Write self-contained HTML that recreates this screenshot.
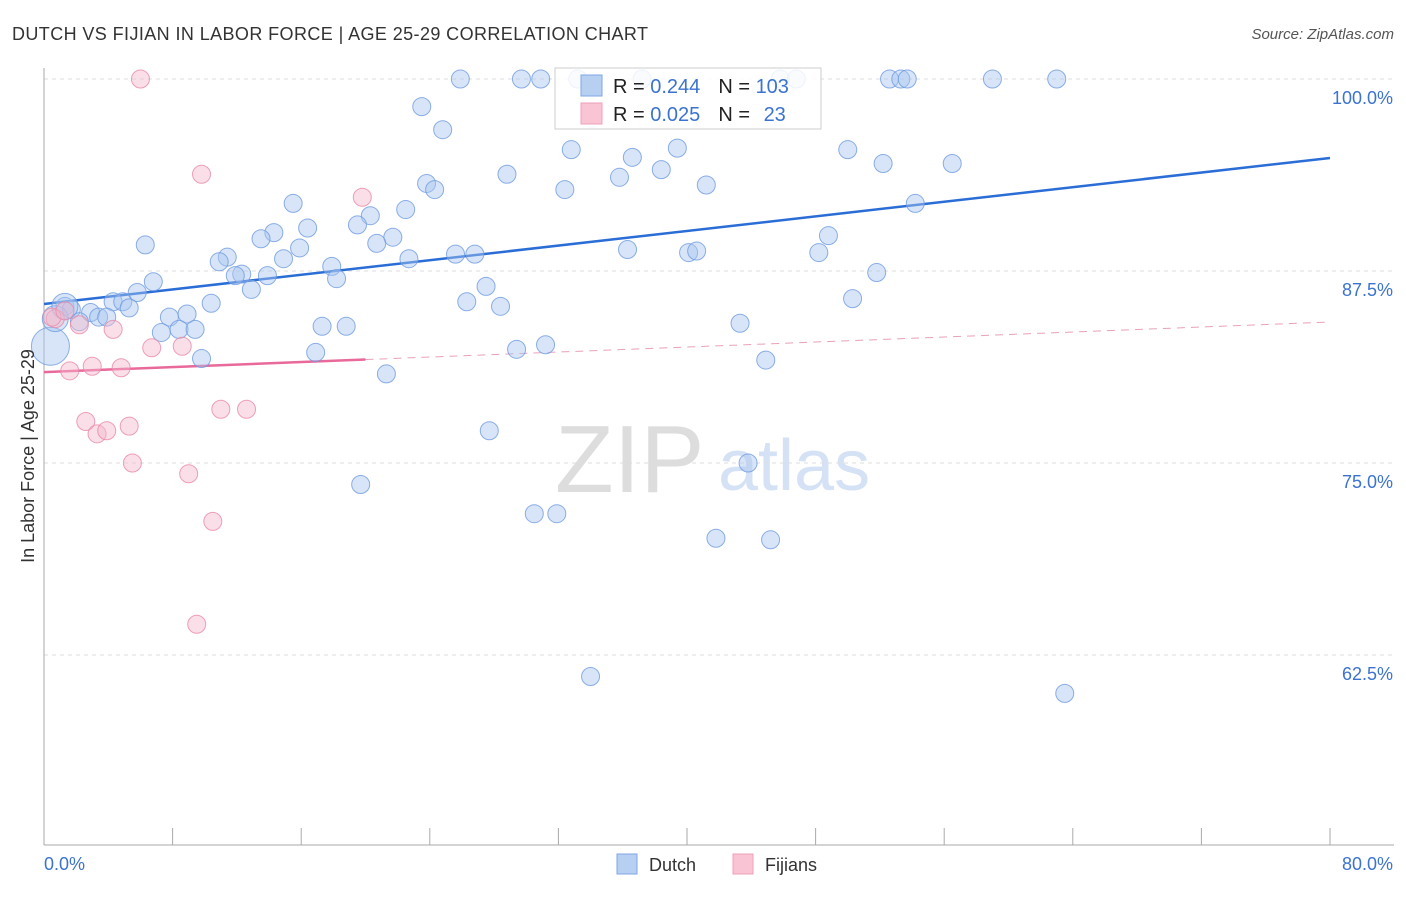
<!DOCTYPE html>
<html><head><meta charset="utf-8"><style>
body{margin:0;background:#fff;font-family:"Liberation Sans",sans-serif;}
svg text{font-family:"Liberation Sans",sans-serif;}
</style></head><body>
<svg width="1406" height="892" xmlns="http://www.w3.org/2000/svg">
<text x="12" y="40" font-size="18" fill="#333" textLength="636">DUTCH VS FIJIAN IN LABOR FORCE | AGE 25-29 CORRELATION CHART</text>
<text x="1394" y="39" font-size="15" fill="#555" font-style="italic" text-anchor="end">Source: ZipAtlas.com</text>
<g>
<text x="555" y="492" font-size="96" fill="#ddd" font-family="Liberation Serif">ZIP</text>
<text x="718" y="490" font-size="72" fill="#d5e2f5">atlas</text>
</g>
<g id="grid"></g>
<g id="axes"></g>
<g id="lines"></g>
<g id="pts"></g>
<text transform="translate(34,456) rotate(-90)" font-size="18" fill="#333" text-anchor="middle">In Labor Force | Age 25-29</text>
<text x="44" y="870" font-size="18" fill="#3b73d0">0.0%</text>
<text x="1393" y="870" font-size="18" fill="#3b73d0" text-anchor="end">80.0%</text>
<g>
<rect x="555" y="68" width="266" height="61" fill="#fff" fill-opacity="0.85" stroke="#ccc"/>
<rect x="581" y="75" width="21" height="21" fill="#b7d0f2" stroke="#7ea6e4"/>
<rect x="581" y="103" width="21" height="21" fill="#f9c5d5" stroke="#eea0b8"/>
<text x="613" y="93" font-size="20" fill="#222">R = <tspan fill="#3b73d0">0.244</tspan><tspan dx="18">N = </tspan><tspan fill="#3b73d0">103</tspan></text>
<text x="613" y="121" font-size="20" fill="#222">R = <tspan fill="#3b73d0">0.025</tspan><tspan dx="18">N = </tspan><tspan fill="#3b73d0" dx="8">23</tspan></text>
</g>
<g>
<rect x="617" y="854" width="20" height="20" fill="#b7d0f2" stroke="#7ea6e4"/>
<text x="649" y="871" font-size="18" fill="#333">Dutch</text>
<rect x="733" y="854" width="20" height="20" fill="#f9c5d5" stroke="#eea0b8"/>
<text x="765" y="871" font-size="18" fill="#333">Fijians</text>
</g>
</svg>
<script>
const yTicks=[100,87.5,75,62.5];
const yTickLabels=["100.0%","87.5%","75.0%","62.5%"];
const xTicks=[0,8,16,24,32,40,48,56,64,72,80];
const dutchX=[25.9,29.7,30.9,33.2,37.2,45.8,46.8,52.6,53.3,53.7,59.0,63.0,23.5,24.8,32.8,36.6,39.4,38.4,28.8,35.8,41.2,32.4,23.8,24.3,50.0,52.2,56.5,54.2,15.5,22.5,16.4,20.3,19.5,21.7,20.7,14.3,13.5,6.3,15.9,11.4,10.9,14.9,22.7,25.6,26.8,36.3,40.1,40.6,48.8,48.2,17.9,18.2,12.3,11.9,13.9,12.9,6.8,5.8,51.8,27.5,26.3,28.4,10.4,4.3,4.9,5.3,1.3,1.7,2.9,3.4,3.9,2.2,7.8,8.9,7.3,8.4,9.4,50.3,43.3,17.3,18.8,31.2,29.4,16.9,9.8,44.9,21.3,27.7,43.8,19.7,30.5,31.9,41.8,45.2,34.0,63.5,0.4,0.7,1.3];
const dutchY=[100,100,100,100,100,100,100,100,100,100,100,100,98.2,96.7,95.4,94.9,95.5,94.1,93.8,93.6,93.1,92.8,93.2,92.8,95.4,94.5,94.5,91.9,91.9,91.5,90.3,91.1,90.5,89.7,89.3,90.0,89.6,89.2,89.0,88.4,88.1,88.3,88.3,88.6,88.6,88.9,88.7,88.8,89.8,88.7,87.8,87.0,87.3,87.2,87.2,86.3,86.8,86.1,87.4,86.5,85.5,85.2,85.4,85.5,85.5,85.1,85.2,85.0,84.8,84.5,84.5,84.2,84.5,84.7,83.5,83.7,83.7,85.7,84.1,83.9,83.9,82.7,82.4,82.2,81.8,81.7,80.8,77.1,75.0,73.6,71.7,71.7,70.1,70.0,61.1,60.0,82.6,84.4,85.2];
const dutchR=[8,8,8,8,8,8,8,8,8,8,8,8,8,8,8,8,8,8,8,8,8,8,8,8,8,8,8,8,8,8,8,8,8,8,8,8,8,8,8,8,8,8,8,8,8,8,8,8,8,8,8,8,8,8,8,8,8,8,8,8,8,8,8,8,8,8,8,8,8,8,8,8,8,8,8,8,8,8,8,8,8,8,8,8,8,8,8,8,8,8,8,8,8,8,8,8,18,12,12];
const fijiX=[6.0,9.8,19.8,0.7,2.2,4.3,6.7,8.6,1.6,3.0,4.8,2.6,3.3,3.9,5.3,11.0,12.6,5.5,9.0,10.5,9.5,0.5,1.3];
const fijiY=[100,93.8,92.3,84.4,84.0,83.7,82.5,82.6,81.0,81.3,81.2,77.7,76.9,77.1,77.4,78.5,78.5,75.0,74.3,71.2,64.5,84.5,84.9];
const dutchLine=[85.35,94.86];
const fijiLine=[80.92,84.18];
const fijiSolidEnd=20;
const NS="http://www.w3.org/2000/svg";
const X=v=>44+v*16.075, Y=v=>79+(100-v)*15.36;
function mk(tag,at,parent){const e=document.createElementNS(NS,tag);for(const k in at)e.setAttribute(k,at[k]);parent.appendChild(e);return e;}
const grid=document.getElementById('grid'),axes=document.getElementById('axes'),lines=document.getElementById('lines'),pts=document.getElementById('pts');
yTicks.forEach((t,i)=>{
 const l=mk('line',{x1:44,x2:1394,y1:Y(t),y2:Y(t),stroke:'#ddd','stroke-dasharray':'4,4'},grid);
 
 
 const tx=mk('text',{x:1393,y:Y(t)+25,'font-size':18,fill:'#3b73d0','text-anchor':'end'},grid);
 tx.textContent=yTickLabels[i];
 
 
});
mk('line',{x1:44,x2:44,y1:68,y2:845,stroke:'#aaa'},axes);
mk('line',{x1:44,x2:1394,y1:845,y2:845,stroke:'#aaa'},axes);
xTicks.forEach(t=>{const l=mk('line',{x1:X(t),x2:X(t),y1:828,y2:845,stroke:'#aaa'},axes);
 
 });
dutchX.forEach((x,i)=>{const c=mk('circle',{cx:X(x),cy:Y(dutchY[i]),r:dutchR[i]+1,fill:'#a9c6ef','fill-opacity':0.45,stroke:'#6f9be0','stroke-opacity':0.8},pts);
 
 });
fijiX.forEach((x,i)=>{const c=mk('circle',{cx:X(x),cy:Y(fijiY[i]),r:9,fill:'#f5b8cb','fill-opacity':0.45,stroke:'#e88aa8','stroke-opacity':0.8},pts);
 
 });
const dl=mk('line',{x1:X(0),y1:Y(dutchLine[0]),x2:X(80),y2:Y(dutchLine[1]),stroke:'#2a6dd6','stroke-width':2.5},lines);


const fy=x=>fijiLine[0]+(fijiLine[1]-fijiLine[0])*x/80;
const f1=mk('line',{x1:X(0),y1:Y(fy(0)),x2:X(fijiSolidEnd),y2:Y(fy(fijiSolidEnd)),stroke:'#e8699a','stroke-width':2.5},lines);


const f2=mk('line',{x1:X(fijiSolidEnd),y1:Y(fy(fijiSolidEnd)),x2:X(80),y2:Y(fy(80)),stroke:'#e8a0bb','stroke-width':1,'stroke-dasharray':'8,6'},lines);


</script>
</body></html>
